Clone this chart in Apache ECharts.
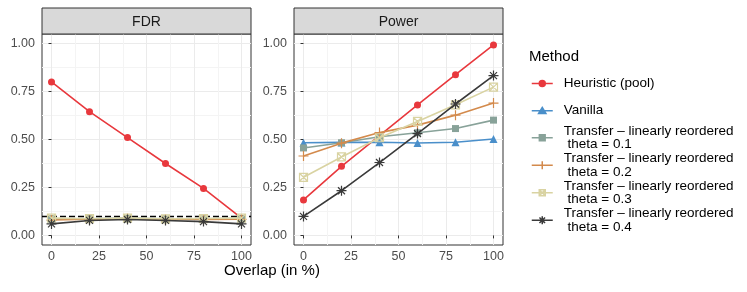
<!DOCTYPE html>
<html>
<head>
<meta charset="utf-8">
<script src="https://cdn.jsdelivr.net/npm/echarts@6/dist/echarts.min.js"></script>
<style>
html,body{margin:0;padding:0;background:#fff;}
#chart{width:747px;height:292px;}
</style>
</head>
<body>
<div id="chart"></div>
<script>
// ---- data ----
const overlap = [0, 20, 40, 60, 80, 100];
const methodNames = [
  'Heuristic (pool)',
  'Vanilla',
  'Transfer \u2013 linearly reordered\n theta = 0.1',
  'Transfer \u2013 linearly reordered\n theta = 0.2',
  'Transfer \u2013 linearly reordered\n theta = 0.3',
  'Transfer \u2013 linearly reordered\n theta = 0.4'
];
const fdrHeuristic = [0.80, 0.645, 0.51, 0.375, 0.245, 0.09];
const fdrVanilla   = [0.085, 0.087, 0.088, 0.086, 0.086, 0.088];
const fdrT01       = [0.087, 0.086, 0.089, 0.085, 0.086, 0.087];
const fdrT02       = [0.080, 0.084, 0.088, 0.084, 0.083, 0.084];
const fdrT03       = [0.090, 0.087, 0.090, 0.086, 0.088, 0.090];
const fdrT04       = [0.060, 0.078, 0.083, 0.078, 0.072, 0.060];
const powHeuristic = [0.185, 0.36, 0.52, 0.68, 0.838, 0.993];
const powVanilla   = [0.483, 0.485, 0.486, 0.482, 0.486, 0.503];
const powT01       = [0.456, 0.483, 0.514, 0.535, 0.557, 0.601];
const powT02       = [0.414, 0.481, 0.536, 0.575, 0.627, 0.69];
const powT03       = [0.303, 0.409, 0.509, 0.594, 0.681, 0.773];
const powT04       = [0.099, 0.233, 0.38, 0.531, 0.685, 0.833];
const fdrLevel = 0.1;
const xTicks = [0, 25, 50, 75, 100];
const xMinor = [12.5, 37.5, 62.5, 87.5];
const yTicks = [0, 0.25, 0.5, 0.75, 1];
const yMinor = [0.125, 0.375, 0.625, 0.875];
const panelTitles = ['FDR', 'Power'];

const fdrData = [fdrHeuristic, fdrVanilla, fdrT01, fdrT02, fdrT03, fdrT04];
const powData = [powHeuristic, powVanilla, powT01, powT02, powT03, powT04];

// ---- styles ----
const colors = ['#e8383d', '#4a8fca', '#88a299', '#d38a4c', '#d9d3a2', '#3a3a3a'];
const symbols = [
  'circle',
  'triangle',
  'rect',
  'path://M5,0 L5,10 M0,5 L10,5',
  'path://M0,0 L10,0 L10,10 L0,10 Z M0,0 L10,10 M10,0 L0,10',
  'path://M5,0 L5,10 M0,5 L10,5 M1.5,1.5 L8.5,8.5 M8.5,1.5 L1.5,8.5'
];
const legendIcons = [
  'path://M0,4 L21,4 M13.5,4 A3,3 0 1,1 7.5,4 A3,3 0 1,1 13.5,4 Z',
  'path://M0,4 L21,4 M10.5,0.6 L14.2,6.8 L6.8,6.8 Z',
  'path://M0,4 L21,4 M7.6,1.1 L13.4,1.1 L13.4,6.9 L7.6,6.9 Z',
  'path://M0,4 L21,4 M10.5,0 L10.5,8 M6.5,4 L14.5,4',
  'path://M0,4 L21,4 M7.5,1 L13.5,1 L13.5,7 L7.5,7 Z M7.5,1 L13.5,7 M13.5,1 L7.5,7',
  'path://M0,4 L21,4 M10.5,0 L10.5,8 M6.5,4 L14.5,4 M7.7,1.2 L13.3,6.8 M13.3,1.2 L7.7,6.8'
];
const symbolSizes = [7, 8, 7, 10, 8, 10];
const filled = [true, true, true, false, false, false];

const panelLeft = [42, 294];
const panelTop = 34, panelW = 209, panelH = 211;
const stripTop = 8, stripH = 26;
const FONT = 'Liberation Sans, Arial, sans-serif';

const grids = panelLeft.map(l => ({
  left: l, top: panelTop, width: panelW, height: panelH,
  show: true, borderColor: '#333333', borderWidth: 1, backgroundColor: '#fff'
}));

const xAxes = [], yAxes = [];
[0, 1].forEach(g => {
  xAxes.push({
    type: 'value', gridIndex: g, min: -5, max: 105, position: 'bottom',
    axisLine: { show: false },
    axisTick: { show: true, inside: false, customValues: xTicks, length: 3, lineStyle: { color: '#333', width: 1 } },
    axisLabel: { customValues: xTicks, color: '#4d4d4d', fontSize: 12.5, fontFamily: FONT, margin: 5 },
    splitLine: { show: true, lineStyle: { color: '#ebebeb', width: 1 } }
  });
  xAxes.push({
    type: 'value', gridIndex: g, min: -5, max: 105, position: 'top',
    axisLine: { show: false },
    axisTick: { show: false, customValues: xMinor },
    axisLabel: { show: false, customValues: xMinor },
    splitLine: { show: true, lineStyle: { color: '#f4f4f4', width: 1 } }
  });
  yAxes.push({
    type: 'value', gridIndex: g, min: -0.05, max: 1.05, position: 'left',
    axisLine: { show: false },
    axisTick: { show: true, inside: false, customValues: yTicks, length: 3, lineStyle: { color: '#333', width: 1 } },
    axisLabel: { customValues: yTicks, color: '#4d4d4d', fontSize: 12.5, fontFamily: FONT, margin: 7,
                 formatter: v => v.toFixed(2) },
    splitLine: { show: true, lineStyle: { color: '#ebebeb', width: 1 } }
  });
  yAxes.push({
    type: 'value', gridIndex: g, min: -0.05, max: 1.05, position: 'right',
    axisLine: { show: false },
    axisTick: { show: false, customValues: yMinor },
    axisLabel: { show: false, customValues: yMinor },
    splitLine: { show: true, lineStyle: { color: '#f4f4f4', width: 1 } }
  });
});

const series = [];
[fdrData, powData].forEach((dataset, g) => {
  dataset.forEach((vals, i) => {
    series.push({
      type: 'line', name: methodNames[i],
      xAxisIndex: g * 2, yAxisIndex: g * 2,
      data: overlap.map((x, k) => [x, vals[k]]),
      symbol: symbols[i], symbolSize: symbolSizes[i],
      showSymbol: true, animation: false, z: 3 + i,
      lineStyle: { color: colors[i], width: 1.6 },
      itemStyle: filled[i]
        ? { color: colors[i], borderWidth: 0 }
        : { color: 'rgba(0,0,0,0)', borderColor: colors[i], borderWidth: 1.2 },
      emphasis: { disabled: true }
    });
  });
});
series.push({
  type: 'line', name: 'level', xAxisIndex: 0, yAxisIndex: 0, data: [],
  animation: false, z: 10,
  markLine: {
    silent: true, symbol: 'none', animation: false, label: { show: false },
    lineStyle: { color: '#000', type: [6, 3], width: 1.4 },
    data: [{ yAxis: fdrLevel }]
  }
});

const graphics = [];
panelLeft.forEach((l, i) => {
  graphics.push({
    type: 'rect', shape: { x: l, y: stripTop, width: panelW, height: stripH },
    style: { fill: '#d9d9d9', stroke: '#333333', lineWidth: 1 }, z: 5
  });
  graphics.push({
    type: 'text', x: l + panelW / 2, y: stripTop + stripH / 2 + 1,
    style: { text: panelTitles[i], fill: '#1a1a1a', font: '14px ' + FONT, align: 'center', verticalAlign: 'middle' }, z: 6
  });
});
graphics.push({
  type: 'text', x: 272, y: 271,
  style: { text: 'Overlap (in %)', fill: '#000', font: '15px ' + FONT, align: 'center', verticalAlign: 'middle' }
});
graphics.push({
  type: 'text', x: 529, y: 57,
  style: { text: 'Method', fill: '#000', font: '15px ' + FONT, align: 'left', verticalAlign: 'middle' }
});

const legendData = methodNames.map((n, i) => ({
  name: n,
  icon: legendIcons[i],
  itemStyle: {
    color: filled[i] ? colors[i] : 'rgba(0,0,0,0)',
    borderColor: colors[i], borderWidth: 1.5
  },
  textStyle: n.indexOf('\n') >= 0
    ? { lineHeight: 13.5, padding: [0, 0, 0, 6] }
    : { lineHeight: 27, padding: [0, 0, 0, 6] }
}));

const option = {
  animation: false,
  backgroundColor: '#fff',
  grid: grids,
  xAxis: xAxes,
  yAxis: yAxes,
  legend: {
    orient: 'vertical', left: 531, top: 70, padding: 0, itemGap: 0,
    itemWidth: 21, itemHeight: 8, selectedMode: false, symbolKeepAspect: true,
    data: legendData,
    textStyle: { fontSize: 13.5, fontFamily: FONT, color: '#000' }
  },
  graphic: graphics,
  series: series
};

const chart = echarts.init(document.getElementById('chart'), null, { renderer: 'canvas' });
chart.setOption(option);
</script>
</body>
</html>
